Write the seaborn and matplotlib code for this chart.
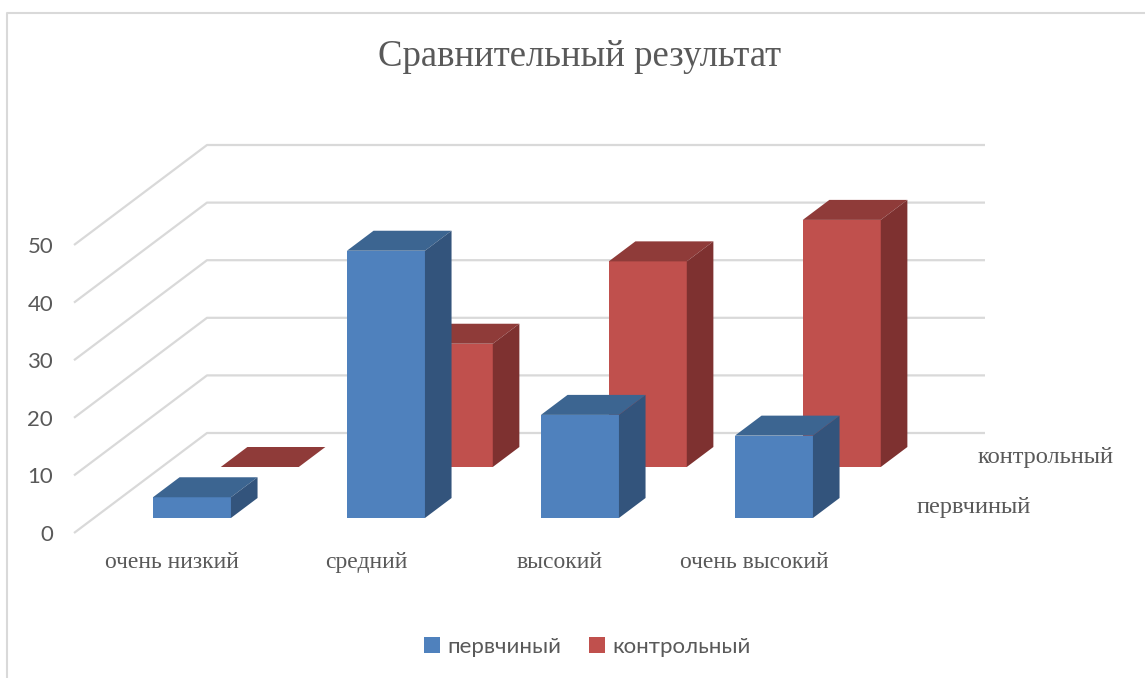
import numpy as np
import pandas as pd
import matplotlib
matplotlib.use('Agg')
from matplotlib import pyplot as plt
from matplotlib.patches import Polygon, Patch
from matplotlib.lines import Line2D
import seaborn as sns

categories = ['очень низкий', 'средний', 'высокий', 'очень высокий']
series = ['первчиный', 'контрольный']
primary = [3.6, 46.4, 17.9, 14.3]
control = [0.0, 21.4, 35.7, 42.9]
yticks = [0, 10, 20, 30, 40, 50]
title = 'Сравнительный результат'

sns.set_theme(style='white')
plt.rcParams['font.family'] = ['Liberation Serif', 'DejaVu Serif']

W, H = 1145, 678
fig = plt.figure(figsize=(W / 100, H / 100), dpi=100)
ax = fig.add_axes([74 / W, 1 - 533 / H, 971 / W, 460.8 / H])

# fake 3d: depth vector (front plane -> back wall) in data units
DX, DY = 133 / 194, 100 / 5.76
rows = {'контрольный': 0.66, 'первчиный': 0.15}
thick = 0.2
colors = {
    'первчиный': ('#4F81BD', '#3C6591', '#33547C'),
    'контрольный': ('#C0504D', '#8F3B39', '#7E3130'),
}
grid_c = '#D9D9D9'
text_c = '#595959'

# back wall + floor grid lines
xl = -0.50515
xr = (985 - 172) / 194
for v in yticks:
    ax.plot([xl, xl + DX, xr], [v, v + DY, v + DY], color=grid_c, lw=1.6,
            zorder=0, clip_on=False, solid_capstyle='butt')

# bars, back row first so the front row covers it
for name, vals in [('контрольный', control), ('первчиный', primary)]:
    front, top, side = colors[name]
    d = rows[name]
    n0 = len(ax.patches)
    df = pd.DataFrame({'cat': categories, 'val': vals})
    sns.barplot(data=df, x='cat', y='val', color=front, saturation=1,
                width=0.402, ax=ax, zorder=2, linewidth=0)
    for p in ax.patches[n0:]:
        p.set_x(p.get_x() + d * DX)
        p.set_y(d * DY)
        p.set_clip_on(False)
        x0, y0 = p.get_x(), p.get_y()
        x1, y1 = x0 + p.get_width(), y0 + p.get_height()
        tx, ty = thick * DX, thick * DY
        ax.add_patch(Polygon([(x0, y1), (x1, y1), (x1 + tx, y1 + ty), (x0 + tx, y1 + ty)],
                             closed=True, facecolor=top, edgecolor='none', zorder=2, clip_on=False))
        ax.add_patch(Polygon([(x1, y0), (x1 + tx, y0 + ty), (x1 + tx, y1 + ty), (x1, y1)],
                             closed=True, facecolor=side, edgecolor='none', zorder=2, clip_on=False))

ax.set_xlim(xl, 4.5)
ax.set_ylim(0, 80)
ax.set_xlabel('')
ax.set_ylabel('')
ax.set_yticks(yticks)
for s in ax.spines.values():
    s.set_visible(False)
ax.tick_params(axis='x', length=0, pad=14, labelsize=17, labelcolor=text_c)
ax.tick_params(axis='y', length=0, pad=15, labelsize=16, labelcolor=text_c)
for t in ax.get_yticklabels():
    t.set_family(['Lato', 'DejaVu Sans'])
for t in ax.get_xticklabels():
    t.set_family(['Liberation Serif', 'DejaVu Serif'])
ax.patch.set_visible(False)

# depth axis labels
for name in series:
    d = rows[name] + thick / 2
    ax.text(3.96 + d * DX + (0.02 if name == 'контрольный' else 0), d * DY, name,
            ha='center', va='center', fontsize=17.6, color=text_c,
            family=['Liberation Serif', 'DejaVu Serif'])

fig.text(580 / W, 1 - 57 / H, title, ha='center', va='center', fontsize=26.5,
         color=text_c, family=['Liberation Serif', 'DejaVu Serif'])

handles = [Patch(facecolor=colors[s][0], edgecolor='none') for s in series]
fig.legend(handles, series, loc='center', bbox_to_anchor=(587 / W, 1 - 647 / H),
           ncol=2, frameon=False, handlelength=0.75, handleheight=0.75,
           handletextpad=0.3, columnspacing=1.25,
           prop={'family': ['Lato', 'DejaVu Sans'], 'size': 16}, labelcolor=text_c)

# chart area border
fig.add_artist(Line2D([7 / W, 7 / W, 1], [0, 1 - 13 / H, 1 - 13 / H],
                      transform=fig.transFigure, color=grid_c, lw=1.5))

fig.savefig('out.png', dpi=100)
